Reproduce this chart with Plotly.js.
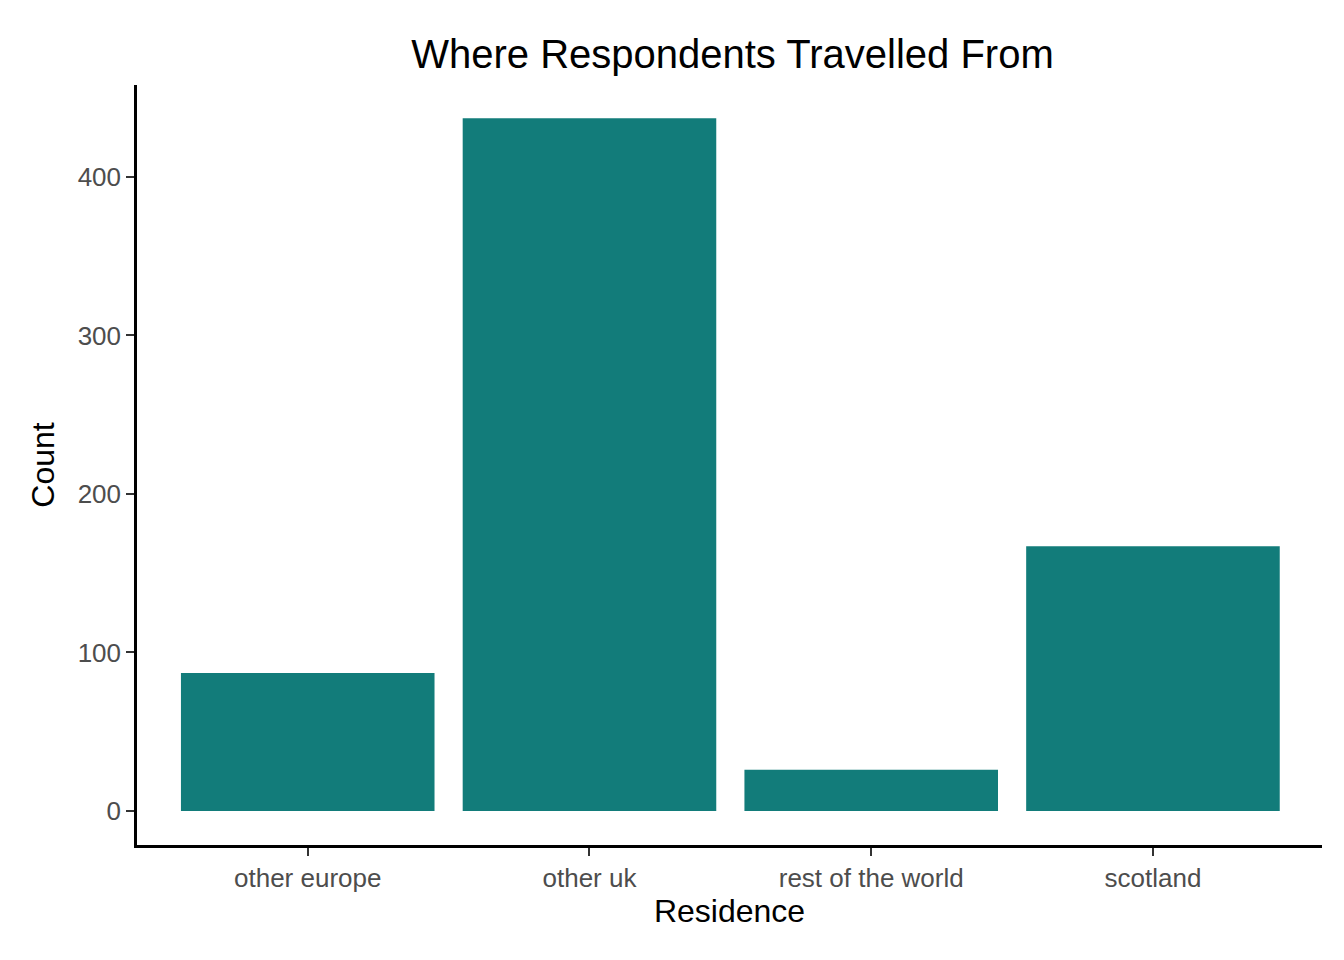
<!DOCTYPE html>
<html>
<head>
<meta charset="utf-8">
<script src="https://cdn.plot.ly/plotly-3.0.1.min.js"></script>
<style>body{margin:0}#chart{width:1344px;height:960px}</style>
</head>
<body>
<div id="chart"></div>
<script>
const residences = ['other europe', 'other uk', 'rest of the world', 'scotland'];
const counts = [87, 437, 26, 167];
const tickVals = [0, 100, 200, 300, 400];

const trace = {
    x: residences,
    y: counts,
    type: 'bar',
    width: 0.9,
    marker: { color: '#127C7A' },
    hoverinfo: 'x+y'
};

const axisStyle = {
    showgrid: false,
    zeroline: false,
    showline: true,
    linecolor: 'black',
    linewidth: 2.5,
    ticks: 'outside',
    ticklen: 8,
    tickwidth: 2,
    tickcolor: '#333',
    tickfont: { size: 26, color: '#4d4d4d' }
};

const layout = {
    width: 1344,
    height: 960,
    margin: { t: 85, r: 22, b: 115, l: 137 },
    paper_bgcolor: 'white',
    plot_bgcolor: 'white',
    font: { family: 'Liberation Sans, Arial, sans-serif', color: 'black' },
    title: { text: 'Where Respondents Travelled From', font: { size: 40 }, x: 0.545, xanchor: 'center', y: 0.958 },
    xaxis: Object.assign({}, axisStyle, {
        range: [-0.606, 3.6],
        title: { text: 'Residence', font: { size: 32 }, standoff: 8 }
    }),
    yaxis: Object.assign({}, axisStyle, {
        range: [-21.5, 458],
        tickvals: tickVals,
        title: { text: 'Count', font: { size: 32 }, standoff: 14 }
    }),
    showlegend: false
};

Plotly.newPlot('chart', [trace], layout, { displayModeBar: false });
</script>
</body>
</html>
